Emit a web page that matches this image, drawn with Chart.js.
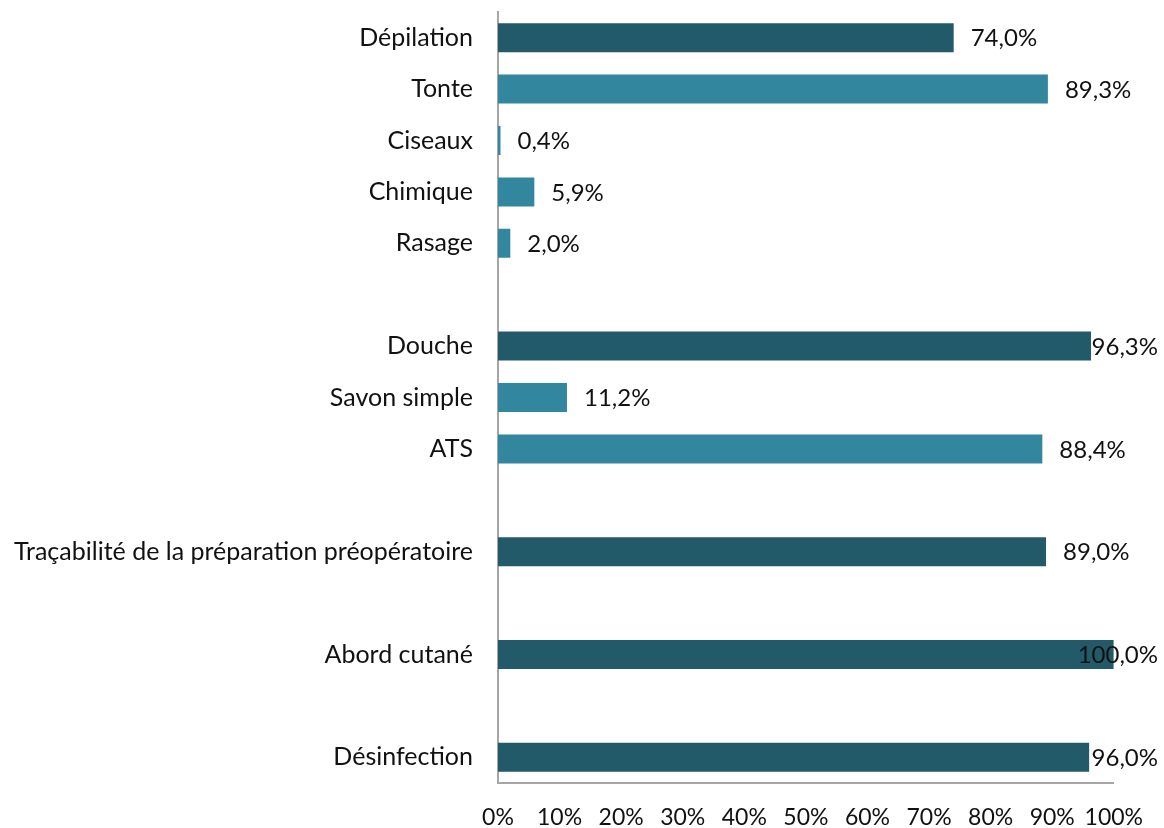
<!DOCTYPE html>
<html lang="fr">
<head>
<meta charset="utf-8">
<title>Préparation cutanée</title>
<script src="https://cdn.jsdelivr.net/npm/chart.js@4/dist/chart.umd.min.js"></script>
<style>
  html, body { margin: 0; padding: 0; background: #fff; }
  #wrap { width: 1164px; height: 828px; position: relative; }
</style>
</head>
<body>
<div id="wrap"><canvas id="prepChart"></canvas></div>
<script>
// Rows from top to bottom; empty strings are spacer rows between groups
const categories = [
  "Dépilation", "Tonte", "Ciseaux", "Chimique", "Rasage",
  "",
  "Douche", "Savon simple", "ATS",
  "",
  "Traçabilité de la préparation préopératoire",
  "",
  "Abord cutané",
  "",
  "Désinfection"
];

const percentages = [
  74.0, 89.3, 0.4, 5.9, 2.0,
  null,
  96.3, 11.2, 88.4,
  null,
  89.0,
  null,
  100.0,
  null,
  96.0
];

// Main items (dark bars); the others are their sub-items
const mainItems = ["Dépilation", "Douche", "Traçabilité de la préparation préopératoire", "Abord cutané", "Désinfection"];

const xTicks = [0, 10, 20, 30, 40, 50, 60, 70, 80, 90, 100];

const DARK = "#235a69";
const LIGHT = "#32869d";
const AXIS = "#a6a6a6";
const FONT = "Lato, 'Open Sans', sans-serif";

const fmt = v => v.toFixed(1).replace(".", ",") + "%";

// Value labels at the end of each bar, pulled back inside the canvas when too wide
const valueLabels = {
  id: "valueLabels",
  afterDatasetsDraw(chart) {
    const ctx = chart.ctx;
    const meta = chart.getDatasetMeta(0);
    const maxRight = chart.width - 6;
    ctx.save();
    ctx.font = "24px " + FONT;
    ctx.fillStyle = "#111";
    ctx.textBaseline = "middle";
    ctx.textAlign = "left";
    meta.data.forEach((bar, i) => {
      const v = percentages[i];
      if (v === null) return;
      const text = fmt(v);
      const w = ctx.measureText(text).width;
      const x = Math.min(bar.x + 17, maxRight - w);
      ctx.fillText(text, x, bar.y + 1);
    });
    ctx.restore();
  }
};

new Chart(document.getElementById("prepChart").getContext("2d"), {
  type: "bar",
  data: {
    labels: categories,
    datasets: [
      {
        data: percentages,
        backgroundColor: categories.map(c => mainItems.includes(c) ? DARK : LIGHT),
        borderWidth: 0,
        categoryPercentage: 1,
        barPercentage: 0.565,
      },
    ],
  },
  options: {
    indexAxis: "y",
    responsive: true,
    maintainAspectRatio: false,
    animation: false,
    layout: {
      padding: { top: 12, right: 49, bottom: 0, left: 0 },
    },
    plugins: {
      legend: { display: false },
      tooltip: { enabled: false },
    },
    scales: {
      x: {
        min: 0,
        max: 100,
        afterBuildTicks: scale => {
          scale.ticks = xTicks.map(v => ({ value: v }));
        },
        afterFit: scale => { scale.height = 45; },
        grid: { display: false, drawTicks: false },
        border: { color: AXIS, width: 2 },
        ticks: {
          color: "#111",
          padding: 21,
          maxRotation: 0,
          font: { family: FONT, size: 23 },
          callback: v => v + "%",
        },
      },
      y: {
        afterFit: scale => {
          scale.width = 498;
          scale.paddingTop = 0;
          scale.paddingBottom = 0;
        },
        grid: { display: false, drawTicks: false },
        border: { color: AXIS, width: 2 },
        ticks: {
          color: "#111",
          padding: 25,
          autoSkip: false,
          font: { family: FONT, size: 25 },
        },
      },
    },
  },
  plugins: [valueLabels],
});
</script>
</body>
</html>
